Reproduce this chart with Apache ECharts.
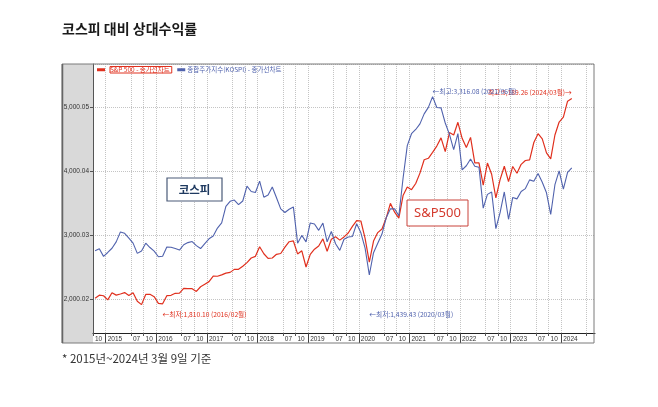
<!DOCTYPE html>
<html>
<head>
<meta charset="utf-8">
<script src="https://cdn.jsdelivr.net/npm/echarts@6/dist/echarts.min.js"></script>
<style>
  html, body { margin: 0; padding: 0; background: #fff; }
  #chart { width: 658px; height: 407px; }
</style>
</head>
<body>
<div id="chart"></div>
<script>
// month slots on the axis: 2014/10 .. 2024/09
const axisMonths = [];
for (let y = 2014; y <= 2024; y++) {
  for (let m = 1; m <= 12; m++) {
    if ((y === 2014 && m < 10) || (y === 2024 && m > 9)) continue;
    axisMonths.push(y + "/" + String(m).padStart(2, "0"));
  }
}
// data sits in the middle of each month slot
const dataMonths = axisMonths.slice(0, axisMonths.length - 1);

// monthly closes, 2014/10 .. 2024/03
const sp500 = [
  2018.05, 2067.56, 2058.90,
  1994.99, 2104.50, 2067.89, 2085.51, 2107.39, 2063.11, 2103.84, 1972.18, 1920.03, 2079.36, 2080.41, 2043.94,
  1940.24, 1932.23, 2059.74, 2065.30, 2096.95, 2098.86, 2173.60, 2170.95, 2168.27, 2126.15, 2198.81, 2238.83,
  2278.87, 2363.64, 2362.72, 2384.20, 2411.80, 2423.41, 2470.30, 2471.65, 2519.36, 2575.26, 2647.58, 2673.61,
  2823.81, 2713.83, 2640.87, 2648.05, 2705.27, 2718.37, 2816.29, 2901.52, 2913.98, 2711.74, 2760.17, 2506.85,
  2704.10, 2784.49, 2834.40, 2945.83, 2752.06, 2941.76, 2980.38, 2926.46, 2976.74, 3037.56, 3140.98, 3230.78,
  3225.52, 2954.22, 2584.59, 2912.43, 3044.31, 3100.29, 3271.12, 3500.31, 3363.00, 3269.96, 3621.63, 3756.07,
  3714.24, 3811.15, 3972.89, 4181.17, 4204.11, 4297.50, 4395.26, 4522.68, 4307.54, 4605.38, 4567.00, 4766.18,
  4515.55, 4373.94, 4530.41, 4131.93, 4132.15, 3785.38, 4130.29, 3955.00, 3585.62, 3871.98, 4080.11, 3839.50,
  4076.60, 3970.15, 4109.31, 4169.48, 4179.83, 4450.38, 4588.96, 4507.66, 4288.05, 4193.80, 4567.80, 4769.83,
  4845.65, 5096.27, 5137.08
];
const kospi = [
  1964.43, 1980.78, 1915.59,
  1949.26, 1985.80, 2041.03, 2127.17, 2114.80, 2074.20, 2030.16, 1941.49, 1962.81, 2029.47, 1991.97, 1961.31,
  1912.06, 1916.66, 1995.85, 1994.15, 1983.40, 1970.35, 2016.19, 2034.65, 2043.63, 2008.19, 1983.48, 2026.46,
  2067.57, 2091.64, 2160.23, 2205.44, 2347.38, 2391.79, 2402.71, 2363.19, 2394.47, 2523.43, 2476.37, 2467.49,
  2566.46, 2427.36, 2445.85, 2515.38, 2423.01, 2326.13, 2295.26, 2322.88, 2343.07, 2029.69, 2096.86, 2041.04,
  2204.85, 2195.44, 2140.67, 2203.59, 2041.74, 2130.62, 2024.55, 1967.79, 2063.05, 2083.48, 2087.96, 2197.67,
  2119.01, 1987.01, 1754.64, 1947.56, 2029.60, 2108.33, 2249.37, 2326.17, 2327.89, 2267.15, 2591.34, 2873.47,
  2976.21, 3012.95, 3061.42, 3147.86, 3203.92, 3296.68, 3202.32, 3199.27, 3068.82, 2970.68, 2839.01, 2977.65,
  2663.34, 2699.18, 2757.65, 2695.05, 2685.90, 2332.64, 2451.50, 2472.05, 2155.49, 2293.61, 2472.53, 2236.40,
  2425.08, 2412.85, 2476.86, 2501.53, 2577.12, 2564.28, 2632.58, 2556.27, 2465.07, 2277.99, 2535.29, 2655.28,
  2497.09, 2642.36, 2680.35
];

const yTickValues = [2000, 3000, 4000, 5000];
const yTickLabels = ["2,000.02", "3,000.03", "4,000.04", "5,000.05"];
const labelMonths = ["01", "07", "10"];
const lastLabelMonth = "2024/01";

const RED = "#e0301e";
const BLUE = "#5062ad";
const KR = "Noto Sans CJK KR";

const chart = echarts.init(document.getElementById("chart"));

const option = {
  animation: false,
  title: [
    {
      text: "코스피 대비 상대수익률",
      left: 62, top: 22, padding: 0,
      textStyle: { fontSize: 14, fontWeight: "bold", color: "#1a1a1a", fontFamily: KR }
    },
    {
      text: "* 2015년~2024년 3월 9일 기준",
      left: 62, top: 353, padding: 0,
      textStyle: { fontSize: 11.5, fontWeight: "normal", color: "#333", fontFamily: KR }
    }
  ],
  legend: {
    left: 97, top: 66, padding: 0,
    icon: "rect", itemWidth: 8, itemHeight: 3, itemGap: 5,
    selectedMode: false,
    textStyle: { fontSize: 6.5, fontFamily: KR, padding: [0, 0, 0, -3] },
    data: [
      { name: "S&P 500 - 종가선차트",
        textStyle: { color: RED, borderColor: RED, borderWidth: 1, padding: [0, 2, 0, 0] } },
      { name: "종합주가지수(KOSPI) - 종가선차트", textStyle: { color: BLUE } }
    ]
  },
  grid: { left: 93, top: 64, right: 63, bottom: 74, containLabel: false },
  xAxis: [
    {
      type: "category", data: axisMonths, boundaryGap: false, position: "bottom",
      axisLine: { show: true, lineStyle: { color: "#222", width: 1 } },
      axisTick: {
        show: true, length: 3, lineStyle: { color: "#555" },
        interval: (i, v) => v.slice(5) === "07" || v.slice(5) === "10"
      },
      axisLabel: {
        interval: (i, v) => v <= lastLabelMonth && labelMonths.includes(v.slice(5)),
        formatter: v => (v.slice(5) === "01" ? v.slice(0, 4) : v.slice(5)),
        align: "left", padding: [0, 0, 0, 2], margin: 3,
        fontSize: 6.5, color: "#333", fontFamily: "Liberation Sans"
      },
      splitLine: {
        show: true,
        interval: (i, v) => i > 0 && labelMonths.includes(v.slice(5)),
        lineStyle: { type: "dotted", color: "#c4c4c4" }
      }
    },
    {
      type: "category", data: axisMonths, boundaryGap: false, position: "bottom",
      axisLine: { show: false }, axisLabel: { show: false }, splitLine: { show: false },
      axisTick: {
        show: true, length: 10, lineStyle: { color: "#444" },
        interval: (i, v) => v.slice(5) === "01"
      }
    },
    { type: "category", data: dataMonths, boundaryGap: true, show: false }
  ],
  yAxis: [
    {
      type: "value", min: 1477, max: 5676, splitNumber: 4, position: "left",
      axisLine: { show: true, lineStyle: { color: "#555" } },
      axisTick: { show: true, length: 3, lineStyle: { color: "#555" } },
      axisLabel: {
        fontSize: 6.5, color: "#333", margin: 4, fontFamily: "Liberation Sans",
        showMinLabel: false, showMaxLabel: false,
        formatter: v => {
          const k = yTickValues.indexOf(v);
          return k < 0 ? "" : yTickLabels[k];
        }
      },
      splitLine: { show: true, lineStyle: { type: "dotted", color: "#c4c4c4" } }
    },
    { type: "value", min: 1253, max: 3579, show: false, splitLine: { show: false } }
  ],
  series: [
    {
      name: "S&P 500 - 종가선차트", type: "line",
      xAxisIndex: 2, yAxisIndex: 0, data: sp500,
      showSymbol: false, symbol: "none",
      lineStyle: { color: RED, width: 1.2 }, itemStyle: { color: RED },
      markPoint: {
        symbol: "circle", symbolSize: 0,
        label: { show: true, color: RED, fontSize: 6.7, fontFamily: KR, distance: 0 },
        data: [
          { coord: ["2016/02", 1810.10],
            label: { formatter: "←최저:1,810.10 (2016/02월)", position: "right", offset: [0, 3] } },
          { coord: ["2024/03", 5189.26],
            label: { formatter: "최고:5,189.26 (2024/03월)→", position: "left", offset: [0, -3] } }
        ]
      }
    },
    {
      name: "종합주가지수(KOSPI) - 종가선차트", type: "line",
      xAxisIndex: 2, yAxisIndex: 1, data: kospi,
      showSymbol: false, symbol: "none",
      lineStyle: { color: BLUE, width: 1.1 }, itemStyle: { color: BLUE },
      markPoint: {
        symbol: "circle", symbolSize: 0,
        label: { show: true, color: BLUE, fontSize: 6.7, fontFamily: KR, distance: 0 },
        data: [
          { coord: ["2021/06", 3316.08],
            label: { formatter: "←최고:3,316.08 (2021/06월)", position: "right", offset: [0, -3] } },
          { coord: ["2020/03", 1439.43],
            label: { formatter: "←최저:1,439.43 (2020/03월)", position: "right", offset: [0, 3] } }
        ]
      }
    }
  ],
  graphic: [
    { type: "rect", z: -10, shape: { x: 62, y: 64, width: 31, height: 279 },
      style: { fill: "#d9d9d9" } },
    { type: "rect", z: 100, shape: { x: 62, y: 64, width: 532, height: 279 },
      style: { fill: "none", stroke: "#7a7a7a", lineWidth: 1 } },
    { type: "line", z: 100, shape: { x1: 62.5, y1: 64, x2: 62.5, y2: 343 },
      style: { stroke: "#666", lineWidth: 1.5 } },
    { type: "rect", z: 100, shape: { x: 167, y: 178, width: 55, height: 23 },
      style: { fill: "#fff", stroke: "#4a5a78", lineWidth: 1.2 } },
    { type: "text", z: 101, x: 194.5, y: 190,
      style: { text: "코스피", fill: "#1f3a60", font: "bold 11.5px 'Noto Sans CJK KR'",
               align: "center", verticalAlign: "middle" } },
    { type: "rect", z: 100, shape: { x: 407, y: 200, width: 61, height: 26 },
      style: { fill: "#fff", stroke: "#c9433a", lineWidth: 1 } },
    { type: "text", z: 101, x: 437.5, y: 213.5,
      style: { text: "S&P500", fill: "#d43a2e", font: "13px 'Noto Sans'",
               align: "center", verticalAlign: "middle" } }
  ]
};

chart.setOption(option);
</script>
</body>
</html>
